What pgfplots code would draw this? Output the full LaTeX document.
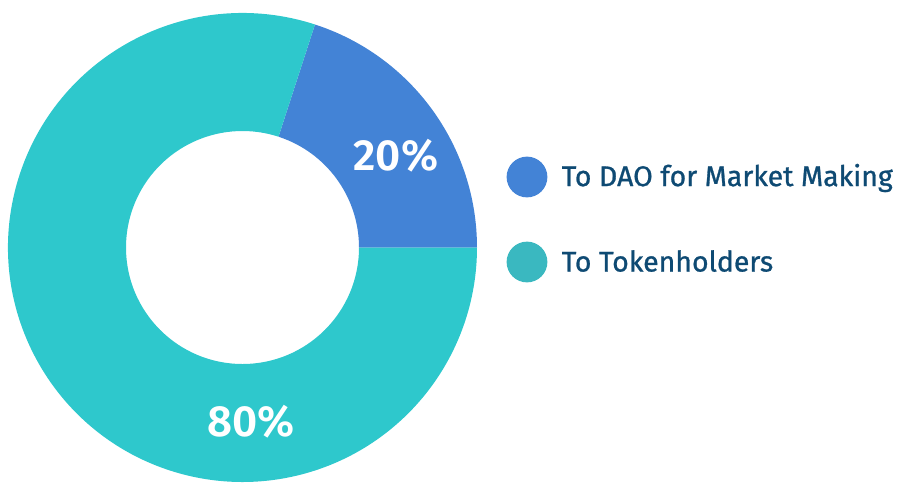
\documentclass[border=0pt]{standalone}
\usepackage{pgfplots}
\usepackage{pgfplotstable}
\pgfplotsset{compat=1.18}
\usepackage{fontspec}
\setmainfont{Fira Sans}
\newfontfamily\semibold{Fira Sans SemiBold}

\definecolor{daoblue}{HTML}{4383D6}
\definecolor{tokenteal}{HTML}{2EC8CC}
\definecolor{legteal}{HTML}{3AB8C0}
\definecolor{textnavy}{HTML}{0E4A73}

\pgfplotstableread{
share label
20 {To DAO for Market Making}
80 {To Tokenholders}
}\sharetable

\begin{document}
\begin{tikzpicture}
\pgfplotstablegetelem{0}{share}\of\sharetable \let\shareA\pgfplotsretval
\pgfplotstablegetelem{1}{share}\of\sharetable \let\shareB\pgfplotsretval
\pgfmathsetmacro\angA{3.6*\shareA}
\pgfmathsetmacro\angB{\angA+3.6*\shareB}
\begin{axis}[
  width=9.11cm, height=4.95cm, scale only axis,
  xmin=0, xmax=911, ymin=0, ymax=495,
  hide axis, clip=false,
]
% donut slices, centre (242.5,247.5), radii 234.5 / 116.5 px
\fill[daoblue] ([shift={(0:2.345cm)}]axis cs:242.5,247.5)
  arc[start angle=0, end angle=\angA, radius=2.345cm]
  -- ([shift={(\angA:1.165cm)}]axis cs:242.5,247.5)
  arc[start angle=\angA, end angle=0, radius=1.165cm] -- cycle;
\fill[tokenteal] ([shift={(\angA:2.345cm)}]axis cs:242.5,247.5)
  arc[start angle=\angA, end angle=\angB, radius=2.345cm]
  -- ([shift={(\angB:1.165cm)}]axis cs:242.5,247.5)
  arc[start angle=\angB, end angle=\angA, radius=1.165cm] -- cycle;

\node[text=white, font=\fontsize{12.4pt}{14pt}\semibold]
  at (axis cs:396,339) {20\%};
\node[text=white, font=\fontsize{12.4pt}{14pt}\semibold]
  at (axis cs:251,73) {80\%};

% legend
\addplot[daoblue, only marks, mark=*, mark size=5.6pt] coordinates {(527,318)};
\addplot[legteal, only marks, mark=*, mark size=5.6pt] coordinates {(527,233)};
\node[anchor=west, inner sep=0pt, text=textnavy, font=\fontsize{8.1pt}{10pt}\selectfont\addfontfeatures{FakeBold=0.9}]
  at (axis cs:561,317) {To DAO for Market Making};
\node[anchor=west, inner sep=0pt, text=textnavy, font=\fontsize{8.1pt}{10pt}\selectfont\addfontfeatures{FakeBold=0.9}]
  at (axis cs:561,234) {To Tokenholders};
\end{axis}
\pgfresetboundingbox
\path (current axis.south west) rectangle (current axis.north east);
\end{tikzpicture}
\end{document}
